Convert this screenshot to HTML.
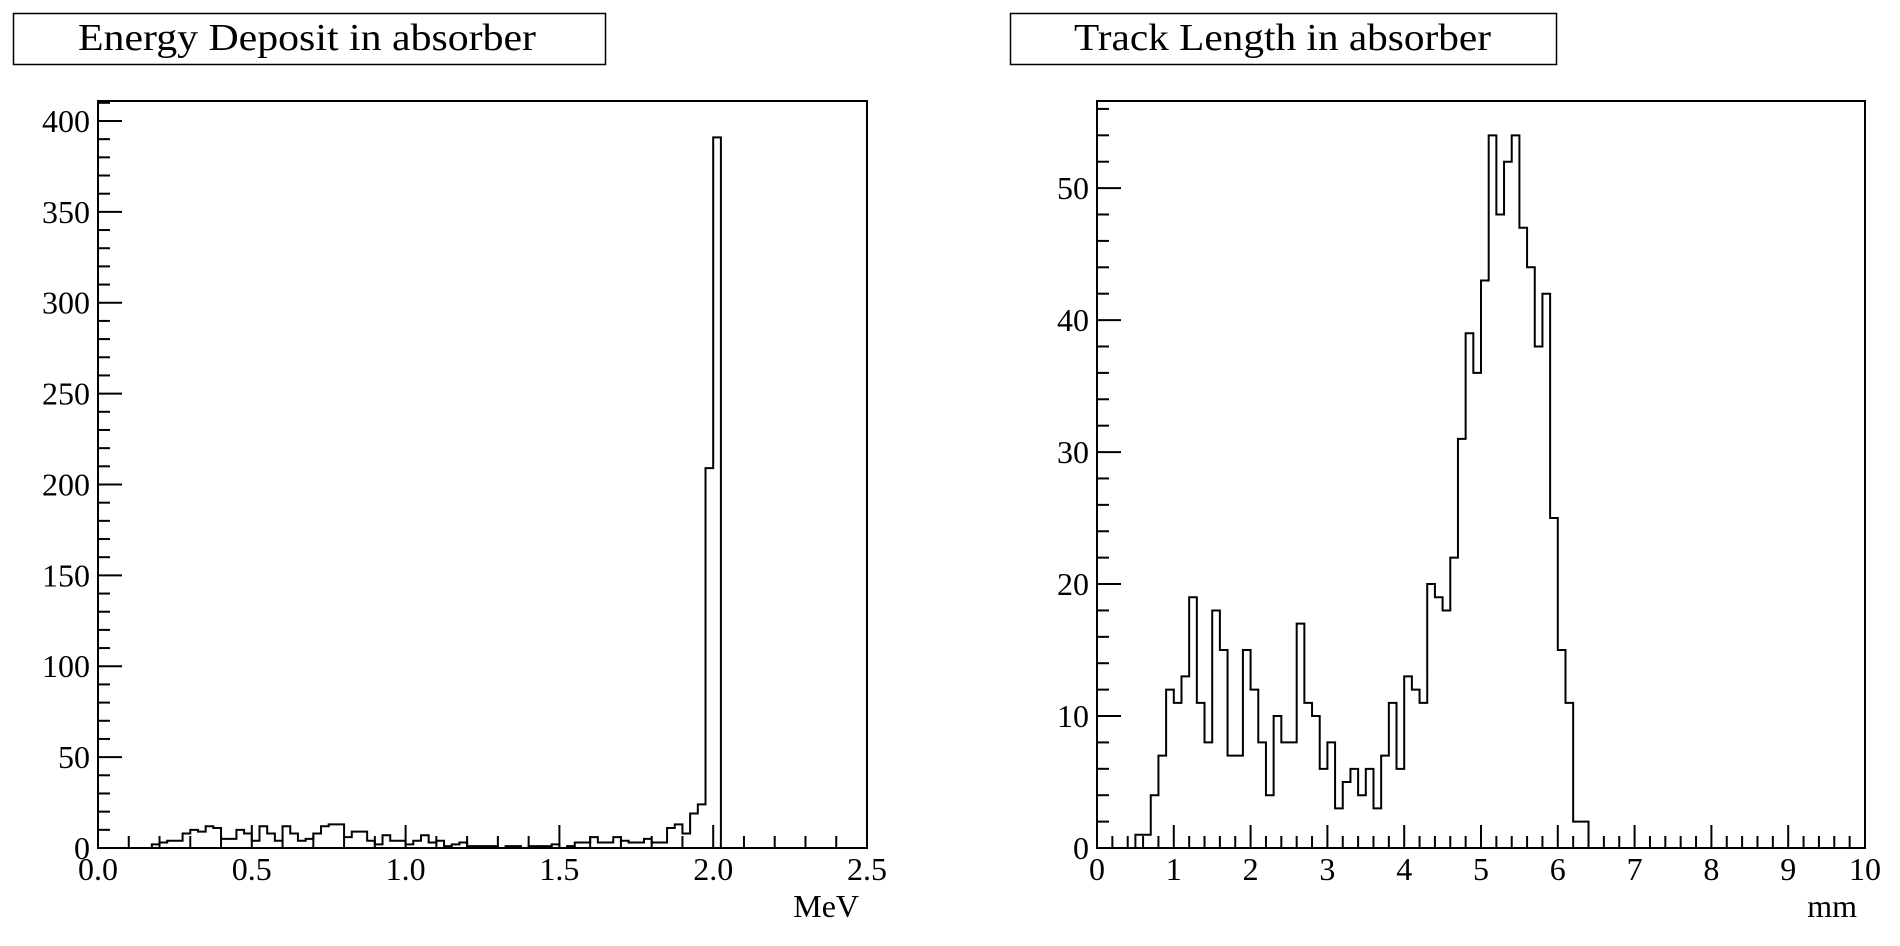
<!DOCTYPE html>
<html><head><meta charset="utf-8"><style>
html,body{margin:0;padding:0;background:#fff;}
svg{display:block;font-family:"Liberation Serif",serif;}
</style></head><body>
<svg id="c" width="1900" height="946" viewBox="0 0 1900 946" xmlns="http://www.w3.org/2000/svg">
  <g>
    <rect x="13.5" y="13.5" width="592" height="51" fill="#fff" stroke="#000" stroke-width="1.5"/>
    <text x="78" y="50" font-size="38" textLength="458" lengthAdjust="spacingAndGlyphs">Energy Deposit in absorber</text>
  </g>
  <g>
    <rect x="1010.5" y="13.5" width="546" height="51" fill="#fff" stroke="#000" stroke-width="1.5"/>
    <text x="1074" y="50" font-size="38" textLength="417" lengthAdjust="spacingAndGlyphs">Track Length in absorber</text>
  </g>
  <g id="p1"></g>
  <g id="p2"></g>
</svg>
<script>
// Energy deposit histogram: 100 bins over 0..2.5 MeV
const energyXMin = 0, energyXMax = 2.5, energyYMax = 411;
const energyCounts = [0,0,0,0,0,0,0,2,3,4,4,8,10,9,12,11,5,5,10,8,4,12,8,4,12,8,4,5,8,12,13,13,6,9,9,4,2,7,4,4,2,4,7,3,4,1,2,3,1,1,1,1,0,1,1,0,1,1,1,2,0,1,3,3,6,3,3,6,4,3,3,5,3,3,11,13,8,19,24,209,391,0,0,0,0,0,0,0,0,0,0,0,0,0,0,0,0,0,0,0];
const energyXTicks = ["0.0","0.5","1.0","1.5","2.0","2.5"];
const energyYTicks = ["0","50","100","150","200","250","300","350","400"];
// Track length histogram: 100 bins over 0..10 mm
const trackXMin = 0, trackXMax = 10, trackYMax = 56.6;
const trackCounts = [0,0,0,0,0,1,1,4,7,12,11,13,19,11,8,18,15,7,7,15,12,8,4,10,8,8,17,11,10,6,8,3,5,6,4,6,3,7,11,6,13,12,11,20,19,18,22,31,39,36,43,54,48,52,54,47,44,38,42,25,15,11,2,2,0,0,0,0,0,0,0,0,0,0,0,0,0,0,0,0,0,0,0,0,0,0,0,0,0,0,0,0,0,0,0,0,0,0,0,0];
const trackXTicks = ["0","1","2","3","4","5","6","7","8","9","10"];
const trackYTicks = ["0","10","20","30","40","50"];

const NS="http://www.w3.org/2000/svg";
function mk(parent,tag,attrs){const e=document.createElementNS(NS,tag);for(const k in attrs)e.setAttribute(k,attrs[k]);parent.appendChild(e);return e;}

function drawPlot(g,o){
  const L=o.L,R=o.R,T=101,B=848;
  const sx=v=>L+(v-o.xmin)/(o.xmax-o.xmin)*(R-L);
  const sy=v=>B-v/o.ymax*(B-T);
  const n=o.counts.length, w=(o.xmax-o.xmin)/n;
  let d="M"+sx(o.xmin)+","+sy(0);
  for(let i=0;i<n;i++){const y=sy(o.counts[i]);d+=" L"+sx(o.xmin+i*w)+","+y+" L"+sx(o.xmin+(i+1)*w)+","+y;}
  d+=" L"+sx(o.xmax)+","+sy(0);
  const h=mk(g,"path",{d:d,fill:"none",stroke:"#000","stroke-width":2});
  
  
  const f=mk(g,"rect",{x:L,y:T,width:R-L,height:B-T,fill:"none",stroke:"#000","stroke-width":2});
  
  
  const xt=mk(g,"g",{});
  
  
  const xmaj=parseFloat(o.xTicks[1])-parseFloat(o.xTicks[0]);
  const xminor=xmaj/o.xsub;
  for(let v=o.xmin;v<=o.xmax+1e-9;v+=xminor){
    const k=Math.round((v-o.xmin)/xminor);const major=k%o.xsub===0;
    mk(xt,"line",{x1:sx(v),x2:sx(v),y1:B,y2:B-(major?23:12),stroke:"#000","stroke-width":2});
  }
  o.xTicks.forEach(t=>{
    const tx=mk(xt,"text",{x:sx(parseFloat(t)),y:880,"font-size":32,"text-anchor":"middle"});tx.textContent=t;
    
    
  });
  const at=mk(xt,"text",{x:R-8,y:917,"font-size":32,"text-anchor":"end"});at.textContent=o.xtitle;
  
  
  const yt=mk(g,"g",{});
  
  
  const ymaj=parseFloat(o.yTicks[1]);const yminor=ymaj/o.ysub;
  for(let v=0;v<=o.ymax;v+=yminor){
    const k=Math.round(v/yminor);const major=k%o.ysub===0;
    mk(yt,"line",{x1:L,x2:L+(major?24:12),y1:sy(v),y2:sy(v),stroke:"#000","stroke-width":2});
  }
  o.yTicks.forEach(t=>{
    const tx=mk(yt,"text",{x:L-8,y:sy(parseFloat(t))+11,"font-size":32,"text-anchor":"end"});tx.textContent=t;
    
    
  });
}
drawPlot(document.getElementById("p1"),{L:98,R:867,xmin:energyXMin,xmax:energyXMax,ymax:energyYMax,counts:energyCounts,xTicks:energyXTicks,yTicks:energyYTicks,xsub:5,ysub:5,xtitle:"MeV"});
drawPlot(document.getElementById("p2"),{L:1097,R:1865,xmin:trackXMin,xmax:trackXMax,ymax:trackYMax,counts:trackCounts,xTicks:trackXTicks,yTicks:trackYTicks,xsub:5,ysub:5,xtitle:"mm"});
</script>
</body></html>
